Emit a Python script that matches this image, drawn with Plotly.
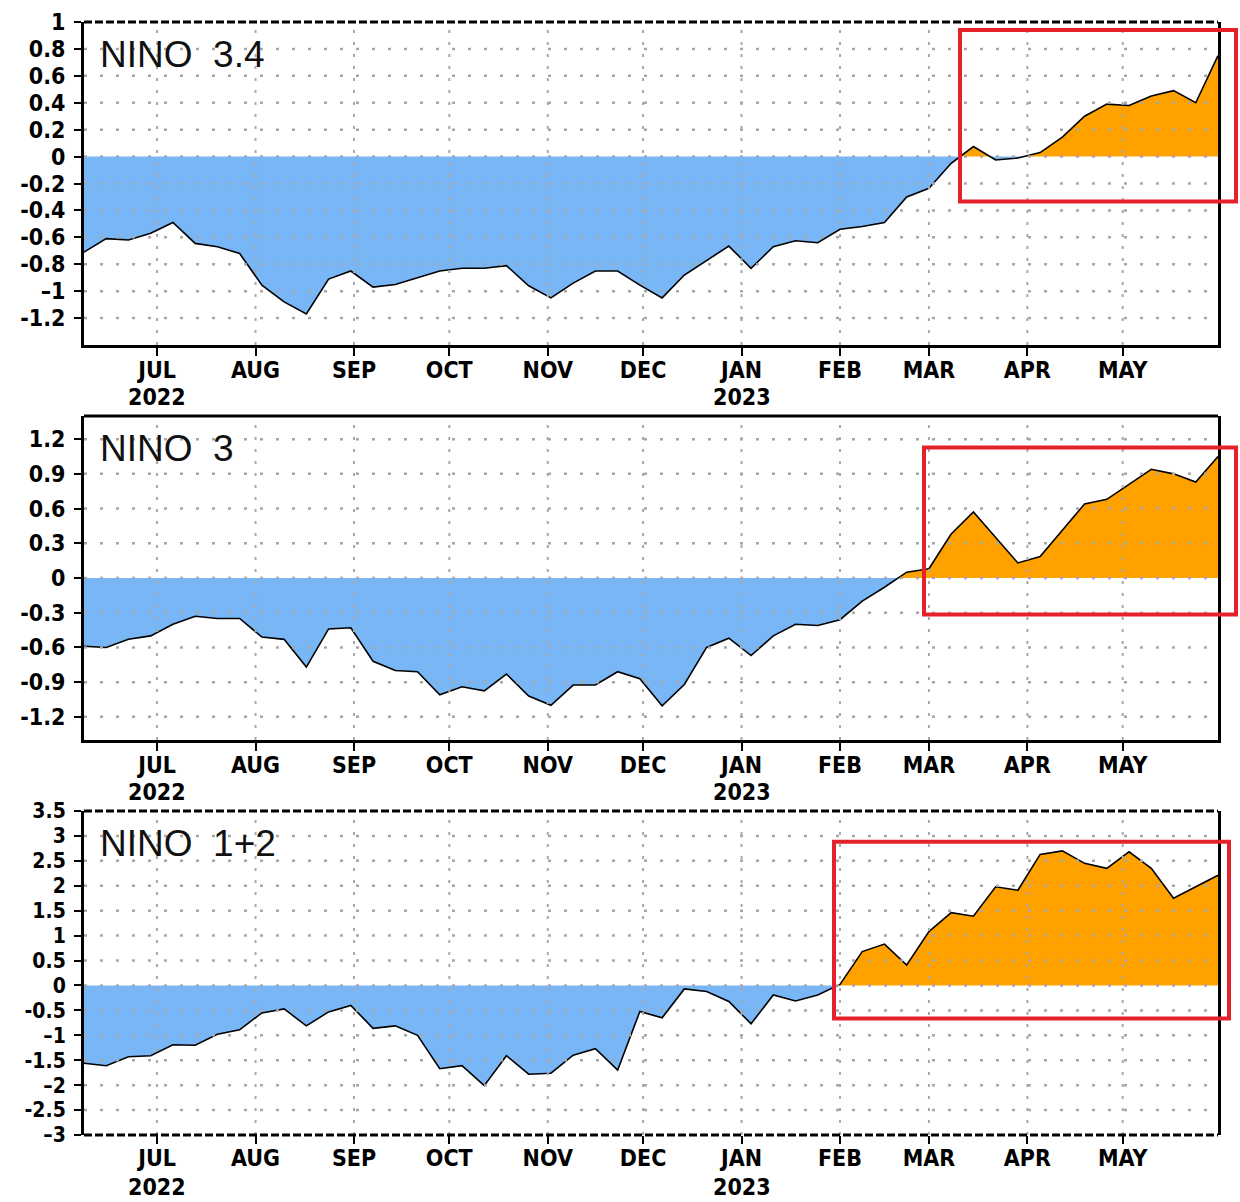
import numpy as np
import pandas as pd
import plotly.graph_objects as go

# ---------------- data ----------------
week_start = "2022-06-08"
n_weeks = 52
weeks = pd.date_range(week_start, periods=n_weeks, freq="7D")

nino34 = [-0.71, -0.61, -0.62, -0.57, -0.49, -0.645, -0.67, -0.72, -0.955, -1.08,
          -1.17, -0.91, -0.85, -0.97, -0.95, -0.90, -0.85, -0.83, -0.83, -0.81,
          -0.96, -1.05, -0.94, -0.85, -0.85, -0.955, -1.05, -0.88, -0.77, -0.665,
          -0.83, -0.67, -0.625, -0.64, -0.54, -0.52, -0.49, -0.30, -0.235, -0.05,
          0.075, -0.025, -0.01, 0.03, 0.145, 0.30, 0.39, 0.38, 0.45, 0.49,
          0.40, 0.75]

nino3 = [-0.59, -0.60, -0.53, -0.50, -0.40, -0.33, -0.35, -0.35, -0.51, -0.53,
         -0.77, -0.44, -0.43, -0.72, -0.80, -0.81, -1.01, -0.94, -0.975, -0.83,
         -1.02, -1.10, -0.925, -0.925, -0.81, -0.87, -1.105, -0.92, -0.60, -0.52,
         -0.67, -0.50, -0.40, -0.41, -0.36, -0.20, -0.08, 0.05, 0.08, 0.38,
         0.57, 0.35, 0.13, 0.185, 0.41, 0.64, 0.68, 0.81, 0.94, 0.90,
         0.83, 1.05]

nino12 = [-1.56, -1.61, -1.43, -1.41, -1.19, -1.20, -0.98, -0.89, -0.55, -0.47,
          -0.81, -0.53, -0.40, -0.86, -0.81, -1.00, -1.67, -1.61, -2.01, -1.41,
          -1.78, -1.76, -1.40, -1.27, -1.70, -0.52, -0.65, -0.07, -0.12, -0.32,
          -0.77, -0.19, -0.31, -0.19, 0.02, 0.68, 0.83, 0.41, 1.08, 1.46,
          1.39, 1.98, 1.91, 2.63, 2.70, 2.45, 2.35, 2.68, 2.35, 1.75,
          1.98, 2.21]

titles = ["NINO&nbsp;&nbsp;3.4", "NINO&nbsp;&nbsp;3", "NINO&nbsp;&nbsp;1+2"]

month_ticks = ["2022-07-01", "2022-08-01", "2022-09-01", "2022-10-01", "2022-11-01",
               "2022-12-01", "2023-01-01", "2023-02-01", "2023-03-01", "2023-04-01",
               "2023-05-01"]
month_labels = ["JUL", "AUG", "SEP", "OCT", "NOV", "DEC", "JAN",
                "FEB", "MAR", "APR", "MAY"]
year_ticks = ["2022-07-01", "2023-01-01"]
year_labels = ["2022", "2023"]

y_ticks_34 = [1, 0.8, 0.6, 0.4, 0.2, 0, -0.2, -0.4, -0.6, -0.8, -1, -1.2]
y_text_34 = ["1", "0.8", "0.6", "0.4", "0.2", "0", "-0.2", "-0.4", "-0.6", "-0.8", "\u20131", "-1.2"]
y_ticks_3 = [1.2, 0.9, 0.6, 0.3, 0, -0.3, -0.6, -0.9, -1.2]
y_text_3 = ["1.2", "0.9", "0.6", "0.3", "0", "-0.3", "-0.6", "-0.9", "-1.2"]
y_ticks_12 = [3.5, 3, 2.5, 2, 1.5, 1, 0.5, 0, -0.5, -1, -1.5, -2, -2.5, -3]
y_text_12 = ["3.5", "3", "2.5", "2", "1.5", "1", "0.5", "0", "-0.5", "\u20131", "-1.5",
             "\u20132", "-2.5", "\u20133"]

y_ranges = [[-1.4, 1.0], [-1.4, 1.4], [-3.0, 3.5]]

# ---------------- layout geometry (pixels -> paper) ----------------
W, H = 1240, 1202
px_left, px_right = 84, 1218
panels_px = [(22, 345), (416, 740), (811, 1135)]
red_boxes_px = [(960, 30, 1236, 201.5), (924, 447.5, 1236, 614.5), (834, 841.7, 1229, 1018.5)]

BLUE = "#78b6f5"
ORANGE = "#ffa200"
GRID = "#a8a8a8"
RED = "#e5222b"
FAM = "Liberation Sans Narrow, DejaVu Sans Condensed, Liberation Sans"
TICKFONT = dict(family=FAM, size=23, color="black", weight="bold")
TICKFONT_Y = dict(family=FAM, size=23, color="black", weight="bold")
TICKFONT_Y12 = dict(family=FAM, size=21, color="black", weight="bold")


def split_sign(dates, vals):
    t = np.array([d.value for d in dates], dtype=float)
    v = np.array(vals, dtype=float)
    xs, ys = [t[0]], [v[0]]
    for i in range(1, len(v)):
        if v[i - 1] * v[i] < 0:
            tc = t[i - 1] + (t[i] - t[i - 1]) * (-v[i - 1]) / (v[i] - v[i - 1])
            xs.append(tc)
            ys.append(0.0)
        xs.append(t[i])
        ys.append(v[i])
    xs = pd.to_datetime(np.array(xs, dtype="int64"))
    ys = np.array(ys)
    return xs, np.maximum(ys, 0), np.minimum(ys, 0)


fig = go.Figure()
series = [nino34, nino3, nino12]
ytick_sets = [(y_ticks_34, y_text_34), (y_ticks_3, y_text_3), (y_ticks_12, y_text_12)]

for k, vals in enumerate(series):
    ax = "" if k == 0 else str(k + 1)
    xref, yref = "x" + ax, "y" + ax
    xs, pos, neg = split_sign(weeks, vals)
    fig.add_trace(go.Scatter(x=xs, y=neg, mode="none", fill="tozeroy", fillcolor=BLUE,
                             xaxis=xref, yaxis=yref, showlegend=False, hoverinfo="skip"))
    fig.add_trace(go.Scatter(x=xs, y=pos, mode="none", fill="tozeroy", fillcolor=ORANGE,
                             xaxis=xref, yaxis=yref, showlegend=False, hoverinfo="skip"))
    fig.add_trace(go.Scatter(x=weeks, y=vals, mode="lines", line=dict(color="black", width=1.6),
                             xaxis=xref, yaxis=yref, showlegend=False))

    top, bot = panels_px[k]
    ydom = [1 - bot / H, 1 - top / H]
    xdom = [px_left / W, px_right / W]
    yt, ytxt = ytick_sets[k]
    fig.layout["xaxis" + ax] = dict(
        domain=xdom, anchor=yref, type="date", automargin=False,
        range=[weeks[0], weeks[-1]],
        tickmode="array", tickvals=month_ticks, ticktext=month_labels,
        showgrid=False, zeroline=False,
        showline=(k != 2), linecolor="black", linewidth=3, mirror=False,
        ticks="outside", ticklen=8, tickwidth=2, tickcolor="black",
        tickfont=TICKFONT, tickangle=0, ticklabelstandoff=-6,
    )
    fig.layout["yaxis" + ax] = dict(
        domain=ydom, anchor=xref, range=y_ranges[k], automargin=False,
        tickmode="array", tickvals=yt, ticktext=ytxt,
        showgrid=False, zeroline=False,
        showline=True, linecolor="black", linewidth=3, mirror=True,
        ticks="outside", ticklen=7, tickwidth=2, tickcolor="black",
        tickfont=TICKFONT_Y12 if k == 2 else TICKFONT_Y, ticklabelstandoff=4,
    )

    # dotted grid drawn above the fills
    for m in month_ticks:
        fig.add_shape(type="line", xref=xref, yref=yref + " domain", x0=m, x1=m, y0=0, y1=1,
                      line=dict(color=GRID, width=2, dash="3px,9px"), layer="above")
    for yv in yt:
        if y_ranges[k][0] < yv < y_ranges[k][1]:
            fig.add_shape(type="line", xref=xref + " domain", yref=yref, x0=0, x1=1, y0=yv, y1=yv,
                          line=dict(color=GRID, width=2.5, dash="3px,13px"), layer="above")

    # top frame (dashed in panels 1 and 3), bottom frame dashed in panel 3
    fig.add_shape(type="line", xref=xref + " domain", yref=yref + " domain", x0=0, x1=1, y0=1, y1=1,
                  line=dict(color="black", width=3, dash="solid" if k == 1 else "8px,3px"),
                  layer="above")
    if k == 2:
        fig.add_shape(type="line", xref=xref + " domain", yref=yref + " domain", x0=0, x1=1,
                      y0=0, y1=0, line=dict(color="black", width=3, dash="8px,3px"), layer="above")

    # year labels under JUL / JAN
    for yv_, yl in zip(year_ticks, year_labels):
        fig.add_annotation(text=yl, xref=xref, yref="paper", x=yv_, y=1 - (bot + 52) / H,
                           xanchor="center", yanchor="middle", showarrow=False, font=TICKFONT)

    fig.add_annotation(text=titles[k], xref=xref + " domain", yref=yref + " domain",
                       x=0.012, y=0.97, xanchor="left", yanchor="top", showarrow=False,
                       font=dict(family="Liberation Sans, Arial", size=37, color="#111111"))

    x0, y0, x1, y1 = red_boxes_px[k]
    fig.add_shape(type="rect", xref="paper", yref="paper",
                  x0=x0 / W, x1=x1 / W, y0=1 - y1 / H, y1=1 - y0 / H,
                  line=dict(color=RED, width=4), fillcolor="rgba(0,0,0,0)", layer="above")

fig.update_layout(width=W, height=H, margin=dict(l=0, r=0, t=0, b=0),
                  paper_bgcolor="white", plot_bgcolor="white", showlegend=False)

fig.write_html("out.html")
